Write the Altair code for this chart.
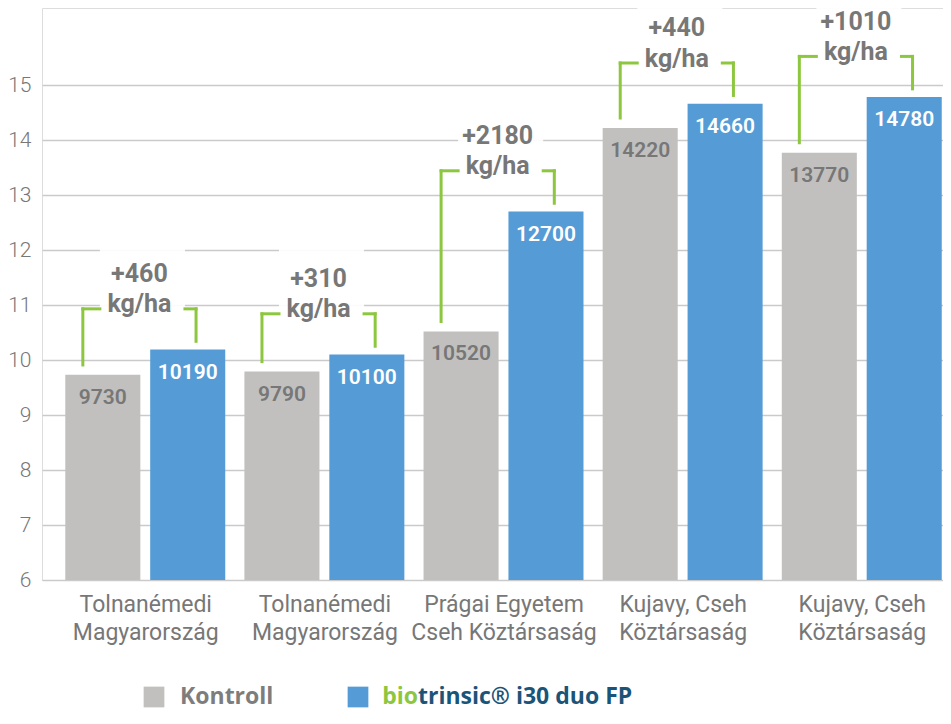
import altair as alt
import pandas as pd

# ---------------- data ----------------
site_line1 = ["Tolnanémedi", "Tolnanémedi", "Prágai Egyetem", "Kujavy, Cseh", "Kujavy, Cseh"]
site_line2 = ["Magyarország", "Magyarország", "Cseh Köztársaság", "Köztársaság", "Köztársaság"]
kontroll = [9730, 9790, 10520, 14220, 13770]
biotrinsic = [10190, 10100, 12700, 14660, 14780]
gain_labels = ["+460", "+310", "+2180", "+440", "+1010"]
unit_label = "kg/ha"
y_ticks = [6, 7, 8, 9, 10, 11, 12, 13, 14, 15]
legend_kontroll = "Kontroll"
legend_bio_a = "bio"
legend_bio_b = "trinsic® i30 duo FP"

# ---------------- styles ----------------
GRAY = "#c1c0be"
BLUE = "#559cd6"
GREEN = "#8dc63f"
NAVY = "#1b5479"
TXT = "#777777"
FONT = "Roboto"
LFONT = "Open Sans"

# layout within a group (group units)
BAR_W = 0.419
BLUE_OFF = 0.474
L_VX = 0.098
L_HX2 = 0.193
R_VX = 0.73
R_HX1 = 0.668
TXT_X = (L_VX + R_VX) / 2
Y_MIN = 6

n = len(kontroll)
groups = pd.DataFrame({
    "idx": list(range(n)),
    "k": kontroll,
    "b": biotrinsic,
    "gain": gain_labels,
    "unit": [unit_label] * n,
})
bars = pd.DataFrame({
    "idx": list(range(n)) * 2,
    "series": ["Kontroll"] * n + ["bio"] * n,
    "value": kontroll + biotrinsic,
})

label_arr = "[" + ",".join(
    "['%s','%s']" % (a, b) for a, b in zip(site_line1, site_line2)
) + "]"

xscale = alt.Scale(domain=[-0.13, 4.9], nice=False, zero=False)
yscale = alt.Scale(domain=[Y_MIN, 16.4], nice=False, zero=False)

xaxis = alt.Axis(
    title=None, grid=False, ticks=False, domain=False,
    values=[i + (BLUE_OFF + BAR_W) / 2 for i in range(n)],
    labelExpr=label_arr + "[floor(datum.value)]",
    labelFont=FONT, labelFontSize=23, labelColor=TXT, labelLineHeight=28,
    labelPadding=13, labelOverlap=False, labelBound=False, labelFlush=False,
    labelBaseline="top", labelLimit=400,
)
yaxis = alt.Axis(
    title=None, ticks=False, domain=False, values=y_ticks, format="d",
    grid=True, gridColor="#cacaca", gridWidth=1.3,
    labelFont=FONT, labelFontSize=21, labelColor=TXT, labelPadding=11,
    labelFontWeight=300,
)

bar_base = alt.Chart(bars).transform_calculate(
    x0="datum.idx + (datum.series == 'Kontroll' ? 0 : %f)" % BLUE_OFF
).transform_calculate(
    x1="datum.x0 + %f" % BAR_W,
    xc="datum.x0 + %f" % (BAR_W / 2),
    v="datum.value / 1000",
    lc="datum.series == 'Kontroll' ? '%s' : 'white'" % TXT,
)

bar_layer = bar_base.mark_bar().encode(
    x=alt.X("x0:Q", scale=xscale, axis=xaxis),
    x2="x1:Q",
    y=alt.Y("v:Q", scale=yscale, axis=yaxis),
    y2=alt.Y2(datum=Y_MIN),
    color=alt.Color("series:N", scale=alt.Scale(domain=["Kontroll", "bio"], range=[GRAY, BLUE]), legend=None),
)

bar_text = bar_base.mark_text(
    font=FONT, fontSize=21, fontWeight=600, baseline="middle", align="center", dy=23
).encode(
    x=alt.X("xc:Q", scale=xscale),
    y=alt.Y("v:Q", scale=yscale),
    text=alt.Text("value:Q", format="d"),
    color=alt.Color("lc:N", scale=None),
)

g = alt.Chart(groups).transform_calculate(
    kv="datum.k / 1000",
    bv="datum.b / 1000",
).transform_calculate(
    top="datum.bv + 0.74",
    lbot="datum.kv + 0.18",
    rbot="datum.bv + 0.15",
    t1="datum.bv + 1.37",
    t2="datum.bv + 0.82",
    lvx="datum.idx + %f" % L_VX,
    lhx2="datum.idx + %f" % L_HX2,
    rvx="datum.idx + %f" % R_VX,
    rhx1="datum.idx + %f" % R_HX1,
    tx="datum.idx + %f" % TXT_X,
).transform_calculate(
    boxb="datum.top - 0.15",
    boxt="datum.top + 1.3",
)

box = g.mark_rect(color="white", opacity=0.92).encode(
    x=alt.X("lhx2:Q", scale=xscale), x2="rhx1:Q",
    y=alt.Y("boxb:Q", scale=yscale), y2="boxt:Q",
)

rule_kw = dict(color=GREEN, strokeWidth=3, strokeCap="square")
lv = g.mark_rule(**rule_kw).encode(
    x=alt.X("lvx:Q", scale=xscale), y=alt.Y("lbot:Q", scale=yscale), y2="top:Q")
lh = g.mark_rule(**rule_kw).encode(
    x=alt.X("lvx:Q", scale=xscale), x2="lhx2:Q", y=alt.Y("top:Q", scale=yscale))
rh = g.mark_rule(**rule_kw).encode(
    x=alt.X("rhx1:Q", scale=xscale), x2="rvx:Q", y=alt.Y("top:Q", scale=yscale))
rv = g.mark_rule(**rule_kw).encode(
    x=alt.X("rvx:Q", scale=xscale), y=alt.Y("rbot:Q", scale=yscale), y2="top:Q")

txt_kw = dict(font=FONT, fontSize=25, fontWeight="bold", color=TXT, baseline="middle", align="center")
gain_t = g.mark_text(**txt_kw).encode(
    x=alt.X("tx:Q", scale=xscale), y=alt.Y("t1:Q", scale=yscale), text="gain:N")
unit_t = g.mark_text(**txt_kw).encode(
    x=alt.X("tx:Q", scale=xscale), y=alt.Y("t2:Q", scale=yscale), text="unit:N")

# ---------------- custom legend (multi-coloured label) ----------------
ldf = pd.DataFrame({"a": [0]})
LY = 689
leg_sq1 = alt.Chart(ldf).mark_square(size=430, color=GRAY, opacity=1).encode(
    x=alt.value(112), y=alt.value(LY))
leg_t1 = alt.Chart(ldf).mark_text(
    text=legend_kontroll, font=LFONT, fontSize=23, fontWeight="bold", color="#7d7d7d",
    align="left", baseline="middle").encode(x=alt.value(138), y=alt.value(LY))
leg_sq2 = alt.Chart(ldf).mark_square(size=430, color=BLUE, opacity=1).encode(
    x=alt.value(316), y=alt.value(LY))
leg_t2a = alt.Chart(ldf).mark_text(
    text=legend_bio_a, font=LFONT, fontSize=23, fontWeight="bold", color=GREEN,
    align="right", baseline="middle").encode(x=alt.value(376), y=alt.value(LY))
leg_t2b = alt.Chart(ldf).mark_text(
    text=legend_bio_b, font=LFONT, fontSize=23, fontWeight="bold", color=NAVY,
    align="left", baseline="middle").encode(x=alt.value(376), y=alt.value(LY))

chart = alt.layer(
    bar_layer, bar_text, box, lv, lh, rh, rv, gain_t, unit_t,
    leg_sq1, leg_t1, leg_sq2, leg_t2a, leg_t2b,
).properties(
    width=901, height=572,
    autosize=alt.AutoSizeParams(type="none"),
    padding={"left": 34, "top": 0, "right": 0, "bottom": 134},
).configure_view(stroke=None).configure(background="white")

chart.save("out.html", embed_options={"renderer": "svg", "actions": False})
